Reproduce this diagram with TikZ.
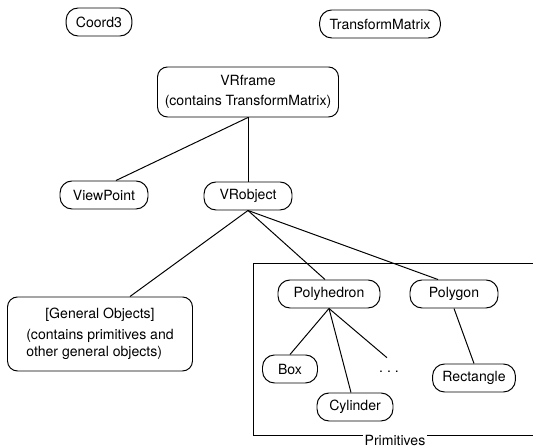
\documentclass[tikz,border=0pt]{standalone}
\usepackage{fontspec}
\setmainfont{TeX Gyre Heros}
\begin{document}
\begin{tikzpicture}[
  cls/.style={draw, line width=0.7pt, rounded corners=3mm, minimum height=0.7cm, inner xsep=7pt},
  bigcls/.style={draw, line width=0.7pt, rounded corners=2.5mm, inner sep=3pt},
  link/.style={line width=0.7pt}]
\useasboundingbox (0,0) rectangle (13.325,11.2);

\node[cls] (coord) at (2.475,10.65) {Coord3};
\node[cls] (tmatrix) at (9.5,10.6) {TransformMatrix};

\node[bigcls, align=center, minimum width=4.525cm, minimum height=1.25cm] (vrframe) at (6.2,8.9)
  {VRframe\\[2pt](contains TransformMatrix)};

\node[cls, minimum width=2.2cm] (viewpoint) at (2.6,6.325) {ViewPoint};
\node[cls, minimum width=2.2cm] (vrobject) at (6.2,6.3) {VRobject};

\node[bigcls, minimum width=4.625cm, minimum height=1.85cm] (general) at (2.5,2.85)
  {\begin{tabular}{@{}l@{}}\multicolumn{1}{@{}c@{}}{[General Objects]}\\[3pt]
   (contains primitives and\\ other general objects)\end{tabular}};

\node[cls, minimum width=2.55cm] (polyhedron) at (8.225,3.85) {Polyhedron};
\node[cls, minimum width=2.2cm] (polygon) at (11.35,3.85) {Polygon};

\node[cls, minimum width=1.375cm] (box) at (7.25,1.975) {Box};
\node[cls, minimum width=1.9cm] (cylinder) at (8.875,1.025) {Cylinder};
\node[minimum height=0.7cm] (dots) at (9.725,1.9) {.\ .\ .};
\node[cls, minimum width=1.825cm] (rectangle) at (11.85,1.75) {Rectangle};

\draw[link] (vrframe.south) -- ([xshift=0.3cm]viewpoint.north);
\draw[link] (vrframe.south) -- (vrobject.north);

\draw[link] (vrobject.south) -- ([xshift=0.75cm]general.north);
\draw[link] (vrobject.south) -- ([xshift=-0.1cm]polyhedron.north);
\draw[link] (vrobject.south) -- ([xshift=-0.4cm]polygon.north);

\draw[link] (polyhedron.south) -- (box.north);
\draw[link] (polyhedron.south) -- ([xshift=-0.1cm]cylinder.north);
\draw[link] (polyhedron.south) -- ([xshift=-0.05cm]dots.north);
\draw[link] (polygon.south) -- (rectangle.north);

\draw[link] (13.6,4.625) -| (6.325,0.325) -- (13.6,0.325);
\node[fill=white, inner xsep=1pt, inner ysep=0pt] (primitives) at (9.875,0.2) {Primitives};
\end{tikzpicture}
\end{document}
